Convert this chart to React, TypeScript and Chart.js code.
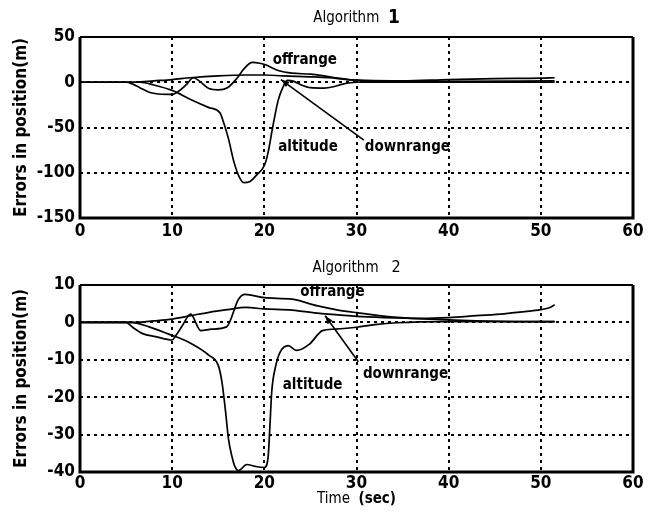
import React, { useEffect, useRef } from 'react';
import { Chart, registerables } from 'chart.js';

Chart.register(...registerables);

type Pt = [number, number];

// Time axis (sec)
const timeTicks = [0, 10, 20, 30, 40, 50, 60];
// Position error axes (m)
const alg1ErrorTicks = [-150, -100, -50, 0, 50];
const alg2ErrorTicks = [-40, -30, -20, -10, 0, 10];

// Algorithm 1 position errors [time, error]
const alg1Offrange: Pt[] = [
  [0, 0], [5, 0], [5.6, -1.5], [6.5, -6], [7.5, -11], [8.5, -13], [10, -13.5], [10.7, -10],
  [11.5, -3], [12.3, 5], [13, 1], [14, -7], [15, -8.5], [16, -6], [17, 4], [17.8, 15],
  [18.7, 22], [19.5, 21], [20.2, 19], [21.5, 13], [23, 10], [25, 9], [26.5, 7], [28, 4.5],
  [30, 2], [32, 1], [40, 1], [51.5, 1.5],
];
const alg1Downrange: Pt[] = [
  [0, 0], [6, 0], [8, 1.5], [10, 3], [12, 5], [15, 7], [18, 8], [20, 8], [22, 7], [25, 6],
  [27, 5], [29, 3], [31, 2], [35, 1.5], [40, 3], [45, 4], [50, 4.5], [51.5, 5],
];
const alg1Altitude: Pt[] = [
  [0, 0], [6.5, 0], [8, -3], [10, -9], [12, -19], [14, -28], [15.2, -34], [15.6, -45],
  [16.1, -62], [16.7, -88], [17.3, -105], [17.8, -111], [18.4, -110], [19.2, -102], [20, -92],
  [20.4, -78], [20.9, -50], [21.5, -20], [22, -6], [22.5, 2], [23.2, 1], [24, -3], [25, -6],
  [26.5, -6.5], [27.5, -5], [28.5, -2], [30, 0], [35, 0], [51.5, 0],
];

// Algorithm 2 position errors [time, error]
const alg2Offrange: Pt[] = [
  [0, 0], [5, 0], [5.7, -1.3], [6.8, -3], [8.2, -3.8], [10, -4.7], [10.4, -3.5], [11.1, -0.9],
  [12, 2.2], [13.1, -2.2], [14.3, -1.8], [15.9, -1.2], [17.2, 6.2], [17.9, 7.5], [20, 6.6],
  [23, 6.2], [25.8, 4.4], [28, 3.3], [30, 2.6], [34, 1.4], [40, 0.7], [45.7, 0.3], [51.5, 0.2],
];
const alg2Downrange: Pt[] = [
  [0, 0], [6, 0], [8, 0.4], [10, 0.9], [12, 1.8], [14, 2.7], [16, 3.4], [18, 4], [20, 3.6],
  [23, 3.3], [26, 2.4], [28, 2], [30, 1.6], [33, 1.3], [37, 1.1], [40, 1.3], [43, 1.8],
  [46, 2.3], [48, 2.8], [50, 3.4], [51, 4], [51.5, 4.7],
];
const alg2Altitude: Pt[] = [
  [0, 0], [5.5, 0], [7.5, -1.2], [9.5, -3], [11.8, -5.3], [14, -8.8], [15, -11.5], [15.4, -15.9],
  [15.8, -24], [16.1, -31], [16.5, -36], [16.8, -38.5], [17.2, -39.6], [18.1, -38], [19, -38.5],
  [20, -38.8], [20.4, -36.3], [20.6, -28], [20.8, -18.6], [21.2, -12], [21.7, -8], [22.6, -6.2],
  [23.5, -7.5], [24.9, -5.8], [26.3, -2.2], [27.6, -1.8], [30, -1.3], [32, -0.6], [34.4, -0.1],
  [40, 0.2], [51.5, 0.2],
];

const FONT = "'Liberation Sans Narrow', 'Arial Narrow', 'DejaVu Sans Condensed', Arial, sans-serif";

type Note = { text: string; t: number; e: number };
type Leader = { from: Pt; to: Pt };
type Run = { text: string; bold: boolean; size: number };

function drawRuns(ctx: CanvasRenderingContext2D, runs: Run[], cx: number, cy: number) {
  let total = 0;
  const widths = runs.map((r) => {
    ctx.font = `${r.bold ? 'bold ' : ''}${r.size}px ${FONT}`;
    const w = ctx.measureText(r.text).width;
    total += w;
    return w;
  });
  let x = cx - total / 2;
  ctx.textBaseline = 'middle';
  ctx.textAlign = 'left';
  runs.forEach((r, i) => {
    ctx.font = `${r.bold ? 'bold ' : ''}${r.size}px ${FONT}`;
    ctx.fillText(r.text, x, cy);
    x += widths[i];
  });
}

// Thick plot frame drawn over the data
const framePlugin = {
  id: 'frame',
  afterDraw(chart: any) {
    const { ctx, chartArea: a } = chart;
    ctx.save();
    ctx.setLineDash([]);
    ctx.strokeStyle = '#000';
    ctx.lineWidth = 3;
    ctx.beginPath();
    ctx.moveTo(a.left, a.top);
    ctx.lineTo(a.left, a.bottom);
    ctx.lineTo(a.right, a.bottom);
    ctx.lineTo(a.right, a.top);
    ctx.stroke();
    ctx.lineWidth = 2;
    ctx.beginPath();
    ctx.moveTo(a.left, a.top);
    ctx.lineTo(a.right, a.top);
    ctx.stroke();
    ctx.restore();
  },
};

// Series names written in the plot, plus the pointer to the downrange curve
const notesPlugin = {
  id: 'notes',
  afterDatasetsDraw(chart: any, _args: any, opts: any) {
    const { ctx } = chart;
    const xs = chart.scales.x;
    const ys = chart.scales.y;
    ctx.save();
    ctx.fillStyle = '#000';
    ctx.strokeStyle = '#000';
    (opts.labels || []).forEach((n: Note) => {
      ctx.font = `bold 15px ${FONT}`;
      ctx.textAlign = 'left';
      ctx.textBaseline = 'middle';
      ctx.fillText(n.text, xs.getPixelForValue(n.t), ys.getPixelForValue(n.e));
    });
    const l: Leader | undefined = opts.leader;
    if (l) {
      const x0 = xs.getPixelForValue(l.from[0]);
      const y0 = ys.getPixelForValue(l.from[1]);
      const x1 = xs.getPixelForValue(l.to[0]);
      const y1 = ys.getPixelForValue(l.to[1]);
      ctx.lineWidth = 1.6;
      ctx.beginPath();
      ctx.moveTo(x0, y0);
      ctx.lineTo(x1, y1);
      ctx.stroke();
      const ang = Math.atan2(y1 - y0, x1 - x0);
      const len = 9;
      const wid = 0.35;
      ctx.beginPath();
      ctx.moveTo(x1, y1);
      ctx.lineTo(x1 - len * Math.cos(ang - wid), y1 - len * Math.sin(ang - wid));
      ctx.lineTo(x1 - len * Math.cos(ang + wid), y1 - len * Math.sin(ang + wid));
      ctx.closePath();
      ctx.fill();
    }
    ctx.restore();
  },
};

// Panel title and bottom axis caption with mixed weights
const captionPlugin = {
  id: 'captions',
  afterDraw(chart: any, _args: any, opts: any) {
    const { ctx, chartArea: a } = chart;
    const cx = (a.left + a.right) / 2;
    ctx.save();
    ctx.fillStyle = '#000';
    if (opts.title) drawRuns(ctx, opts.title, cx, opts.titleY);
    if (opts.xCaption) drawRuns(ctx, opts.xCaption, cx, opts.xCaptionY);
    ctx.restore();
  },
};

function series(data: Pt[]) {
  return {
    data: data.map(([t, e]) => ({ x: t, y: e })),
    borderColor: '#000',
    borderWidth: 1.7,
    pointRadius: 0,
    cubicInterpolationMode: 'monotone' as const,
    fill: false,
  };
}

function makeConfig(p: {
  sets: Pt[][];
  yTicks: number[];
  top: number;
  xAxisHeight: number;
  xTickPad: number;
  labels: Note[];
  leader: Leader;
  title: Run[];
  titleY: number;
  xCaption?: Run[];
  xCaptionY?: number;
}) {
  const tickFont = { family: FONT, size: 17, weight: 'bold' as const };
  const yMin = p.yTicks[0];
  const yMax = p.yTicks[p.yTicks.length - 1];
  const yStep = p.yTicks[1] - p.yTicks[0];
  return {
    type: 'line' as const,
    data: { datasets: p.sets.map(series) },
    plugins: [notesPlugin, framePlugin, captionPlugin],
    options: {
      animation: false as const,
      responsive: false,
      maintainAspectRatio: false,
      layout: { padding: { top: p.top, right: 24, left: 0, bottom: 0 } },
      plugins: {
        legend: { display: false },
        tooltip: { enabled: false },
        notes: { labels: p.labels, leader: p.leader },
        captions: { title: p.title, titleY: p.titleY, xCaption: p.xCaption, xCaptionY: p.xCaptionY },
      },
      scales: {
        x: {
          type: 'linear' as const,
          min: timeTicks[0],
          max: timeTicks[timeTicks.length - 1],
          afterBuildTicks: (s: any) => {
            s.ticks = timeTicks.map((v) => ({ value: v }));
          },
          ticks: { font: tickFont, color: '#000', padding: p.xTickPad, maxRotation: 0, autoSkip: false },
          grid: { color: '#000', lineWidth: 2, drawTicks: false },
          border: { display: false, dash: [3, 4] },
          afterFit: (s: any) => {
            s.height = p.xAxisHeight;
          },
        },
        y: {
          min: yMin,
          max: yMax,
          afterBuildTicks: (s: any) => {
            s.ticks = p.yTicks.map((v) => ({ value: v }));
          },
          ticks: { font: tickFont, color: '#000', padding: 5, autoSkip: false, stepSize: yStep },
          grid: { color: '#000', lineWidth: 2, drawTicks: false },
          border: { display: false, dash: [3, 4] },
          title: {
            display: true,
            text: 'Errors in position(m)',
            color: '#000',
            font: { family: FONT, size: 17, weight: 'bold' as const },
            padding: { top: 11, bottom: 0 },
          },
          afterFit: (s: any) => {
            s.width = 80;
          },
        },
      },
    },
  };
}

export default function App() {
  const topRef = useRef<HTMLCanvasElement>(null);
  const bottomRef = useRef<HTMLCanvasElement>(null);

  useEffect(() => {
    const c1 = new Chart(
      topRef.current as HTMLCanvasElement,
      makeConfig({
        sets: [alg1Offrange, alg1Downrange, alg1Altitude],
        yTicks: alg1ErrorTicks,
        top: 37,
        xAxisHeight: 32,
        xTickPad: 3,
        labels: [
          { text: 'offrange', t: 20.9, e: 24 },
          { text: 'altitude', t: 21.5, e: -72 },
          { text: 'downrange', t: 30.9, e: -72 },
        ],
        leader: { from: [30.8, -64], to: [21.8, 3] },
        title: [
          { text: 'Algorithm  ', bold: false, size: 15 },
          { text: '1', bold: true, size: 19 },
        ],
        titleY: 18,
      }) as any
    );
    const c2 = new Chart(
      bottomRef.current as HTMLCanvasElement,
      makeConfig({
        sets: [alg2Offrange, alg2Downrange, alg2Altitude],
        yTicks: alg2ErrorTicks,
        top: 35,
        xAxisHeight: 42,
        xTickPad: 1,
        labels: [
          { text: 'offrange', t: 23.9, e: 8 },
          { text: 'altitude', t: 22, e: -16.8 },
          { text: 'downrange', t: 30.7, e: -13.7 },
        ],
        leader: { from: [30.2, -10.5], to: [26.6, 1.8] },
        title: [
          { text: 'Algorithm   ', bold: false, size: 15 },
          { text: '2', bold: false, size: 16 },
        ],
        titleY: 18,
        xCaption: [
          { text: 'Time  ', bold: false, size: 15 },
          { text: '(sec)', bold: true, size: 15 },
        ],
        xCaptionY: 249,
      }) as any
    );
    return () => {
      c1.destroy();
      c2.destroy();
    };
  }, []);

  return (
    <div style={{ position: 'absolute', left: 0, top: 0, width: 657, height: 514, background: '#fff' }}>
      <canvas ref={topRef} width={657} height={250} style={{ display: 'block' }} />
      <canvas ref={bottomRef} width={657} height={264} style={{ display: 'block' }} />
    </div>
  );
}
